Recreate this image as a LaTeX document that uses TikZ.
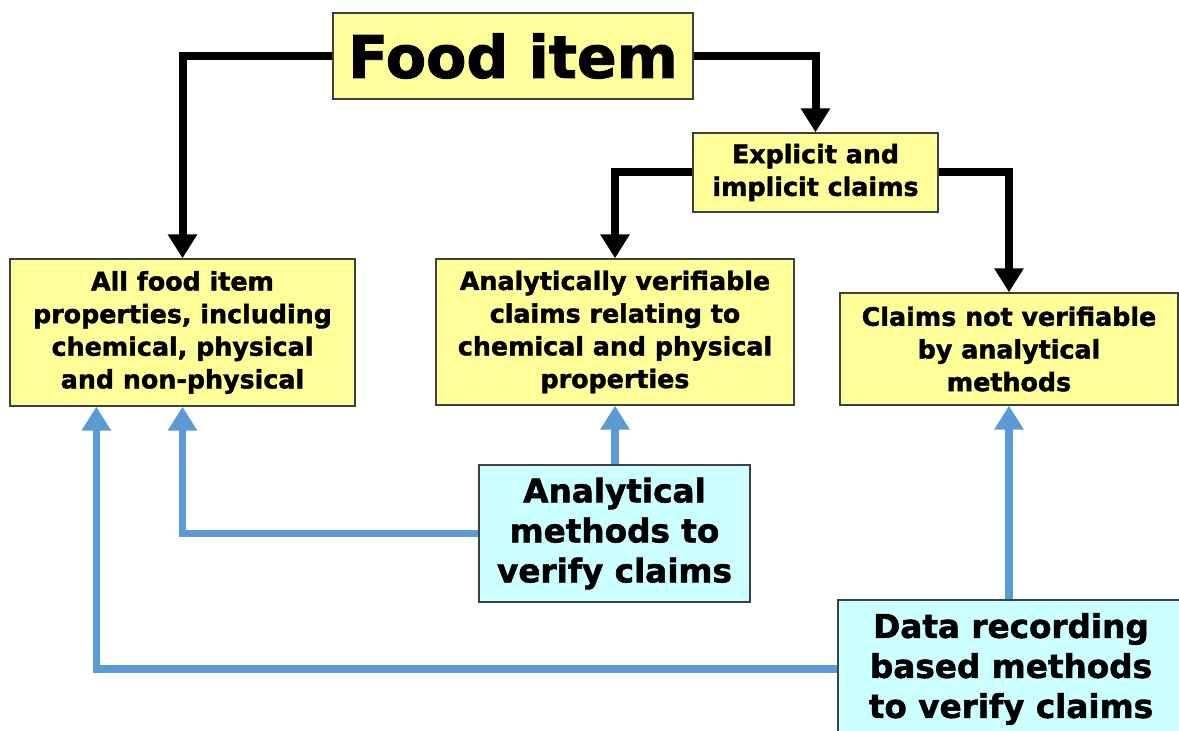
\documentclass[tikz,border=0pt]{standalone}
\usepackage{fontspec}
\setmainfont{DejaVu Sans}[BoldFeatures={FakeBold=1.6}]
\usetikzlibrary{arrows.meta}
\definecolor{note}{HTML}{FFFF99}
\definecolor{toolfill}{HTML}{CCFFFF}
\definecolor{link}{HTML}{5B9BD5}
\tikzset{
  claim/.style={draw=black!75,fill=note,line width=1pt,align=center,inner sep=0pt,
    font=\bfseries\fontsize{19}{24.5}\selectfont},
  tool/.style={claim,fill=toolfill,font=\bfseries\fontsize{24.5}{30}\selectfont},
  flow/.style={-{Triangle[length=18pt,width=21pt]},line width=6pt},
  back/.style={flow,draw=link,line width=5.5pt}
}
\begin{document}
\begin{tikzpicture}[x=0.75pt,y=-0.75pt]
  \clip (0,0) rectangle (1179,731);
  \fill[white] (0,0) rectangle (1179,731);
  \node[claim,minimum width=270pt,minimum height=64.5pt,
    font=\bfseries\fontsize{44}{50}\selectfont] (food) at (513,56) {Food item};
  \node[claim,minimum width=183.75pt,minimum height=59.25pt] (expl) at (815.5,172.5)
    {Explicit and\\implicit claims};
  \node[claim,minimum width=258.75pt,minimum height=110.25pt] (all) at (182.5,332.5)
    {All food item\\properties, including\\chemical, physical\\and non-physical};
  \node[claim,minimum width=268.5pt,minimum height=109.5pt] (ana) at (615,332)
    {Analytically verifiable\\claims relating to\\chemical and physical\\properties};
  \node[claim,minimum width=253.5pt,minimum height=84pt] (nonver) at (1009,349)
    {Claims not verifiable\\by analytical\\methods};
  \node[tool,minimum width=203.25pt,minimum height=102.75pt] (meth) at (614.5,533.5)
    {Analytical\\methods to\\verify claims};
  \node[tool,minimum width=259.5pt,minimum height=103.5pt] (data) at (1011,669)
    {Data recording\\based methods\\to verify claims};
  % claims
  \draw[flow] (food.west) -| (all.north);
  \draw[flow] (food.east) -| (expl.north);
  \draw[flow] (expl.west) -| (ana.north);
  \draw[flow] (expl.east) -| (nonver.north);
  % verification
  \draw[back] (meth.north -| ana.south) -- (ana.south);
  \draw[back] (meth.west) -| (all.south);
  \draw[back] (data.north -| nonver.south) -- (nonver.south);
  \draw[back] (data.west) -| ([xshift=65.25pt]all.south west);
\end{tikzpicture}
\end{document}
